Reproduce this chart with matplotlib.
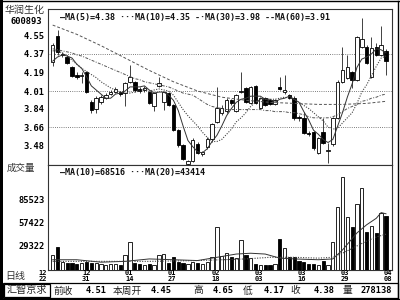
import numpy as np
import matplotlib
matplotlib.use("Agg")
import matplotlib.pyplot as plt
import matplotlib.transforms as mtransforms
from matplotlib.patches import Rectangle
from matplotlib.lines import Line2D

# --- data --------------------------------------------------------------------
opens = [4.29, 4.54, 4.36, 4.34, 4.24, 4.17, 4.16, 4.19, 3.90, 3.84,
         3.90, 3.94, 3.98, 4.00, 4.00, 3.99, 4.10, 4.10, 4.03, 4.02,
         4.00, 3.86, 4.06, 3.90, 3.99, 3.87, 3.63, 3.49, 3.30, 3.33,
         3.50, 3.40, 3.47, 3.54, 3.71, 3.80, 3.82, 3.92, 3.82, 4.00,
         4.04, 3.89, 4.06, 3.85, 3.94, 3.92, 3.88, 4.05, 4.00, 3.97,
         3.94, 3.76, 3.75, 3.60, 3.61, 3.41, 3.61, 3.43, 3.50, 3.75,
         4.10, 4.14, 4.19, 4.12, 4.44, 4.44, 4.15, 4.44, 4.36, 4.40]
highs = [4.48, 4.60, 4.39, 4.36, 4.25, 4.19, 4.19, 4.20, 3.92, 3.96,
         3.97, 3.99, 4.02, 4.05, 4.01, 4.10, 4.26, 4.11, 4.05, 4.06,
         4.01, 4.00, 4.15, 4.01, 4.00, 3.88, 3.64, 3.50, 3.34, 3.55,
         3.52, 3.43, 3.56, 3.70, 4.05, 3.87, 3.94, 3.93, 3.98, 4.19,
         4.05, 4.06, 4.07, 3.95, 3.95, 3.93, 3.93, 4.15, 4.17, 3.98,
         3.96, 3.78, 3.81, 3.62, 3.62, 3.56, 3.75, 3.51, 3.76, 4.12,
         4.44, 4.36, 4.20, 4.54, 4.72, 4.46, 4.53, 4.48, 4.64, 4.42]
lows = [4.25, 4.36, 4.34, 4.27, 4.15, 4.13, 4.09, 3.99, 3.80, 3.80,
        3.88, 3.93, 3.97, 3.99, 3.96, 3.86, 4.09, 4.00, 3.99, 4.00,
        3.88, 3.82, 4.05, 3.83, 3.86, 3.62, 3.47, 3.34, 3.29, 3.32,
        3.40, 3.38, 3.45, 3.52, 3.70, 3.78, 3.80, 3.87, 3.81, 3.99,
        3.89, 3.88, 3.88, 3.84, 3.86, 3.87, 3.87, 4.02, 3.98, 3.93,
        3.73, 3.72, 3.59, 3.57, 3.44, 3.40, 3.50, 3.31, 3.48, 3.74,
        4.09, 4.13, 4.04, 4.11, 4.43, 4.27, 4.14, 4.35, 4.35, 4.17]
closes = [4.46, 4.39, 4.37, 4.28, 4.16, 4.15, 4.17, 4.00, 3.83, 3.94,
          3.95, 3.97, 4.00, 4.03, 3.98, 4.09, 4.15, 4.02, 4.01, 4.04,
          3.89, 3.99, 4.09, 4.00, 3.87, 3.63, 3.49, 3.35, 3.33, 3.53,
          3.41, 3.42, 3.54, 3.69, 3.85, 3.85, 3.92, 3.89, 3.97, 4.01,
          3.90, 4.05, 3.89, 3.94, 3.87, 3.88, 3.92, 4.03, 4.02, 3.94,
          3.75, 3.75, 3.60, 3.59, 3.46, 3.55, 3.51, 3.44, 3.75, 4.10,
          4.21, 4.24, 4.12, 4.53, 4.51, 4.28, 4.43, 4.36, 4.46, 4.30]
volumes = [18000, 28000, 9000, 8000, 8000, 7000, 8000, 9000, 8000, 8000,
           7000, 6000, 7000, 7000, 6000, 18000, 34000, 8000, 7000, 6000,
           7000, 6000, 18000, 19000, 8000, 15000, 9000, 8000, 7000, 9000,
           8000, 7000, 9000, 15000, 52000, 16000, 20000, 15000, 14000, 36000,
           18000, 14000, 7000, 5000, 6000, 6000, 7000, 37000, 26000, 15000,
           15000, 11000, 9000, 7000, 7000, 6000, 10000, 6000, 34000, 77000,
           114000, 65000, 52000, 80000, 100000, 46000, 54000, 45000, 70000, 66000]

ma5 = [4.30, 4.34, 4.36, 4.35, 4.33, 4.27, 4.23, 4.15, 4.06, 4.02,
       3.98, 3.94, 3.94, 3.98, 3.99, 4.01, 4.05, 4.05, 4.05, 4.06,
       4.02, 3.99, 4.00, 4.00, 3.97, 3.92, 3.82, 3.67, 3.53, 3.47,
       3.42, 3.41, 3.45, 3.52, 3.58, 3.67, 3.77, 3.84, 3.90, 3.93,
       3.94, 3.96, 3.96, 3.96, 3.93, 3.93, 3.90, 3.93, 3.94, 3.96,
       3.93, 3.90, 3.81, 3.73, 3.63, 3.59, 3.54, 3.51, 3.54, 3.67,
       3.80, 3.95, 4.08, 4.24, 4.32, 4.34, 4.37, 4.42, 4.41, 4.38]
ma10 = [4.40, 4.40, 4.38, 4.35, 4.31, 4.27, 4.23, 4.20, 4.17, 4.14,
        4.10, 4.07, 4.04, 4.02, 4.00, 4.00, 3.99, 4.00, 4.01, 4.03,
        4.01, 4.02, 4.03, 4.02, 4.01, 3.97, 3.90, 3.83, 3.77, 3.72,
        3.67, 3.61, 3.56, 3.52, 3.52, 3.54, 3.59, 3.64, 3.71, 3.75,
        3.80, 3.86, 3.90, 3.93, 3.93, 3.93, 3.93, 3.94, 3.95, 3.94,
        3.93, 3.90, 3.87, 3.84, 3.80, 3.76, 3.72, 3.66, 3.64, 3.65,
        3.70, 3.75, 3.80, 3.89, 4.00, 4.07, 4.16, 4.25, 4.33, 4.35]
ma30 = [4.42, 4.41, 4.40, 4.39, 4.38, 4.36, 4.35, 4.33, 4.31, 4.29,
        4.27, 4.25, 4.23, 4.21, 4.19, 4.17, 4.15, 4.13, 4.12, 4.10,
        4.09, 4.08, 4.07, 4.06, 4.05, 4.03, 4.01, 3.99, 3.98, 3.97,
        3.94, 3.91, 3.88, 3.86, 3.85, 3.84, 3.83, 3.83, 3.83, 3.83,
        3.83, 3.83, 3.83, 3.83, 3.82, 3.82, 3.81, 3.81, 3.81, 3.80,
        3.80, 3.79, 3.78, 3.76, 3.75, 3.75, 3.75, 3.75, 3.76, 3.78,
        3.81, 3.84, 3.86, 3.88, 3.91, 3.92, 3.94, 3.95, 3.97, 3.98]
ma60_idx = [0, 5, 10, 15, 20, 25, 30, 35, 40, 45, 50, 55, 60, 65, 69]
ma60 = [4.65, 4.56, 4.45, 4.33, 4.21, 4.10, 4.01, 3.95, 3.92, 3.90,
        3.89, 3.88, 3.88, 3.89, 3.91]

vma_idx = [0, 5, 10, 15, 20, 25, 30, 35, 38, 41, 44, 47, 50, 55, 58, 60, 63, 65, 67, 68, 69]
vma10 = [12000, 12000, 9000, 10000, 13000, 12000, 11000, 16000, 19000, 20000, 19000,
         14000, 13000, 12000, 13000, 24000, 45000, 55000, 63000, 70000, 68516]
vma20_idx = [0, 10, 20, 30, 40, 45, 50, 55, 58, 60, 63, 65, 67, 69]
vma20 = [10000, 10000, 10000, 11000, 13000, 15000, 15000, 14000, 15000, 20000,
         29000, 35000, 40000, 43414]

price_ticks = [4.55, 4.37, 4.19, 4.01, 3.84, 3.66, 3.48]
price_grid = [4.37, 4.01, 3.66]
vol_ticks = [29322, 57422, 85523]
date_months = ["12", "12", "01", "01", "02", "03", "03", "03", "04"]
date_days = ["22", "31", "14", "27", "18", "03", "16", "29", "08"]

stock_name = "华润生化"
stock_code = "600893"
summary = [("前收", "4.51"), ("本周开", "4.45"), ("高", "4.65"),
           ("低", "4.17"), ("收", "4.38"), ("量", "278138")]

# --- figure ------------------------------------------------------------------
W, H = 400, 300
fig = plt.figure(figsize=(4, 3), dpi=100)
fig.patch.set_facecolor("white")

def fx(x):
    return x / W

def fy(y):
    return 1 - y / H

CJK = ["Noto Sans CJK SC", "DejaVu Sans"]
MONO = "DejaVu Sans Mono"

x = np.arange(len(closes))
xlim = (-0.97, 70.25)

ax_p = fig.add_axes([fx(48), fy(165), (392 - 48) / W, (165 - 9) / H])
ax_v = fig.add_axes([fx(48), fy(269.5), (392 - 48) / W, (269.5 - 165) / H])

for ax in (ax_p, ax_v):
    ax.set_xlim(*xlim)
    ax.set_xticks([])
    for s in ax.spines.values():
        s.set_linewidth(0.8)
        s.set_color("#333333")
    ax.tick_params(axis="y", length=0, pad=2.5)

# price panel
ax_p.set_ylim(3.292, 4.806)
for g in price_grid:
    ax_p.axhline(g, color="#555555", lw=0.6, ls=(0, (1, 1.6)), zorder=0)

o = np.array(opens)
c = np.array(closes)
up = c >= o
body_lo = np.minimum(o, c)
body_h = np.maximum(np.abs(c - o), 0.008)
ax_p.vlines(x, lows, highs, color="#222222", lw=0.6, zorder=2)
ax_p.bar(x, body_h, bottom=body_lo, width=0.72,
         color=np.where(up, "white", "black"), edgecolor="black",
         linewidth=0.6, zorder=3)

ax_p.plot(x, ma5, color="#333333", lw=0.7, zorder=4)
ax_p.plot(x, ma10, color="#444444", lw=0.8, ls=(0, (1, 1.3)), zorder=4)
ax_p.plot(x, ma30, color="#555555", lw=0.7, ls=(0, (3, 1.5, 1, 1.5)), zorder=4)
ax_p.plot(ma60_idx, ma60, color="#555555", lw=0.7, ls=(0, (3, 2)), zorder=4)

ax_p.set_yticks(price_ticks)
ax_p.set_yticklabels([f"{t:.2f}" for t in price_ticks],
                     fontfamily=MONO, fontweight="bold", fontsize=6.3)

legend_p = (f"\u2014MA(5)={ma5[-1]:.2f} \u00b7\u00b7\u00b7MA(10)={ma10[-1]:.2f} "
            f"-\u00b7MA(30)={ma30[-1]:.2f} --MA(60)={ma60[-1]:.2f}")
ax_p.text(0.035, 0.975, legend_p, transform=ax_p.transAxes, ha="left", va="top",
          fontfamily=MONO, fontweight="bold", fontsize=6.0, color="#111111")

# volume panel
ax_v.set_ylim(0, 128500)
ax_v.bar(x, volumes, width=0.68, color=np.where(up, "white", "black"),
         edgecolor="black", linewidth=0.6, zorder=3)
ax_v.plot(vma_idx, vma10, color="#333333", lw=0.7, zorder=4)
ax_v.plot(vma20_idx, vma20, color="#444444", lw=0.8, ls=(0, (1, 1.3)), zorder=4)
ax_v.set_yticks(vol_ticks)
ax_v.set_yticklabels([str(v) for v in vol_ticks],
                     fontfamily=MONO, fontweight="bold", fontsize=6.3)
legend_v = f"\u2014MA(10)={vma10[-1]} \u00b7\u00b7\u00b7MA(20)={vma20[-1]}"
ax_v.text(0.035, 0.975, legend_v, transform=ax_v.transAxes, ha="left", va="top",
          fontfamily=MONO, fontweight="bold", fontsize=6.0, color="#111111")

# date labels under the volume panel (month above day)
trans = mtransforms.blended_transform_factory(ax_v.transData, fig.transFigure)
positions = np.linspace(-2.0, 69.4, len(date_days))
for pos, mon, day in zip(positions, date_months, date_days):
    ax_v.text(pos, fy(273), mon, transform=trans, ha="center", va="center",
              fontfamily=MONO, fontweight="bold", fontsize=5.0, clip_on=False)
    ax_v.text(pos, fy(279), day, transform=trans, ha="center", va="center",
              fontfamily=MONO, fontweight="bold", fontsize=5.0, clip_on=False)

# left captions
fig.text(fx(25), fy(10), stock_name, ha="center", va="center",
         family=CJK, fontsize=7.2, color="#333333")
fig.text(fx(26), fy(21.5), stock_code, ha="center", va="center",
         fontfamily=MONO, fontweight="bold", fontsize=6.3)
fig.text(fx(21), fy(168), "成交量", ha="center", va="center",
         family=CJK, fontsize=6.8, color="#333333")
fig.text(fx(15), fy(276), "日线", ha="center", va="center",
         family=CJK, fontsize=7.2, color="#333333")

# bottom summary row
fig.add_artist(Rectangle((fx(2.5), fy(298)), fx(398) - fx(2.5), fy(283) - fy(298),
                         fill=False, lw=0.9, ec="black"))
fig.add_artist(Rectangle((fx(3.5), fy(297)), fx(50) - fx(3.5), fy(284) - fy(297),
                         fill=False, lw=0.9, ec="black"))
fig.text(fx(27), fy(290.5), "汇智京求", ha="center", va="center",
         family=CJK, fontsize=7.3, color="#222222")
label_x = [53, 113, 193, 243, 290, 343]
value_r = [107, 172, 234, 285, 335, 392]
for (lab, val), lx, vr in zip(summary, label_x, value_r):
    fig.text(fx(lx), fy(290.5), lab, ha="left", va="center",
             family=CJK, fontsize=7.0, color="#222222")
    fig.text(fx(vr), fy(290.5), val, ha="right", va="center",
             fontfamily=MONO, fontweight="bold", fontsize=6.3)

# window frame
fig.add_artist(Rectangle((0, 0), fx(2.5), 1, color="black", lw=0))
fig.add_artist(Line2D([0, 1], [fy(1), fy(1)], color="black", lw=1.0))
fig.add_artist(Line2D([fx(397.5), fx(397.5)], [fy(299), fy(1)], color="black", lw=1.0))
fig.add_artist(Line2D([0, 1], [fy(299.3), fy(299.3)], color="black", lw=1.0))

fig.savefig("out.png", dpi=100)
